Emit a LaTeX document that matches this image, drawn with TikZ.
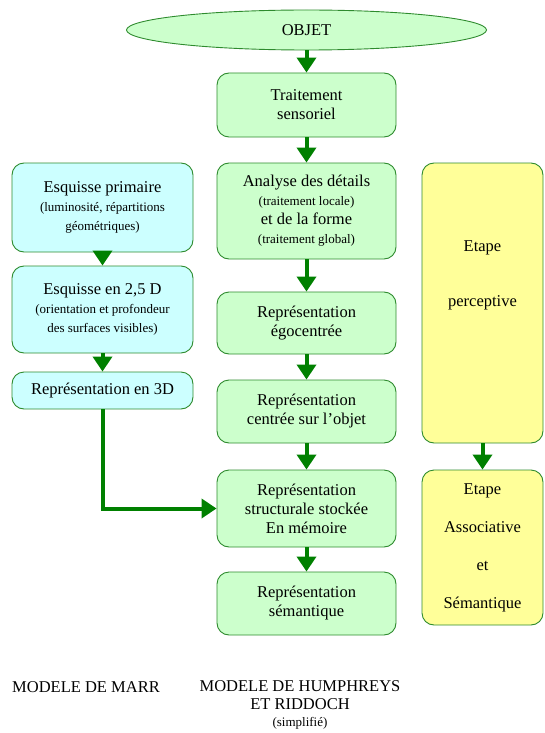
\documentclass[tikz,border=0pt]{standalone}
\usepackage{fontspec}
\setmainfont{Liberation Serif}
\usetikzlibrary{shapes.geometric,arrows.meta}

\definecolor{fillgreen}{HTML}{CCFFCC}
\definecolor{fillblue}{HTML}{CCFFFF}
\definecolor{fillyellow}{HTML}{FFFF99}
\definecolor{edgegreen}{HTML}{2E8B2E}
\definecolor{arrowgreen}{HTML}{008000}

\newcommand{\smalltxt}[1]{{\fontsize{13}{19}\selectfont #1}}

\begin{document}
\begin{tikzpicture}[x=1pt,y={(0pt,-1pt)},
    box/.style={draw=edgegreen, line width=0.9pt, rounded corners=12pt, inner sep=0pt,
        align=center, font=\rmfamily\fontsize{16.5}{19}\selectfont},
    greenbox/.style={box, fill=fillgreen, minimum width=179pt},
    bluebox/.style={box, fill=fillblue, minimum width=181pt},
    yellowbox/.style={box, fill=fillyellow, minimum width=121pt},
    flow/.style={draw=arrowgreen, line width=4pt, -{Triangle[width=19pt,length=15pt]}},
    caption/.style={align=center, inner sep=0pt, font=\rmfamily\fontsize{16.5}{17.5}\selectfont}]
    \useasboundingbox (0,0) rectangle (544,733);

    % middle column
    \node[ellipse, draw=edgegreen, line width=0.9pt, fill=fillgreen, minimum width=360pt,
        minimum height=40pt, inner sep=0pt, font=\rmfamily\fontsize{16.5}{19}\selectfont]
        (objet) at (306.5,30) {OBJET};
    \node[greenbox, minimum height=64pt] (sens) at (306.5,105) {Traitement\\sensoriel};
    \node[greenbox, minimum height=96pt] (anal) at (306.5,211)
        {Analyse des détails\\\smalltxt{(traitement locale)}\\et de la forme\\\smalltxt{(traitement global)}};
    \node[greenbox, minimum height=62pt] (ego) at (306.5,323) {Représentation\\égocentrée};
    \node[greenbox, minimum height=63pt] (cent) at (306.5,411.5) {Représentation\\centrée sur l’objet};
    \node[greenbox, minimum height=77pt] (stru) at (306.5,508.5)
        {Représentation\\structurale stockée\\En mémoire};
    \node[greenbox, minimum height=63pt] (sema) at (306.5,603.5) {Représentation\\sémantique};

    % left column
    \node[bluebox, minimum height=89pt] (esq1) at (102.5,207.5)
        {Esquisse primaire\\\smalltxt{(luminosité, répartitions}\\\smalltxt{géométriques)}};
    \node[bluebox, minimum height=87pt] (esq2) at (102.5,309.5)
        {Esquisse en 2,5 D\\\smalltxt{(orientation et profondeur}\\\smalltxt{des surfaces visibles)}};
    \node[bluebox, minimum height=37pt] (rep3) at (102.5,390.5) {Représentation en 3D};

    % right column
    \node[yellowbox, minimum height=280pt] (perc) at (482.5,303) {};
    \node[align=center, inner sep=0pt, font=\rmfamily\fontsize{16.5}{55}\selectfont]
        (perclbl) at (482.5,275) {Etape\\perceptive};
    \node[yellowbox, minimum height=155pt, font=\rmfamily\fontsize{16.5}{38}\selectfont]
        (asso) at (482.5,547.5) {Etape\\Associative\\et\\Sémantique};

    % arrows
    \draw[flow] (objet) -- (sens);
    \draw[flow] (sens) -- (anal);
    \draw[flow] (anal) -- (ego);
    \draw[flow] (ego) -- (cent);
    \draw[flow] (cent) -- (stru);
    \draw[flow] (stru) -- (sema);
    \draw[flow] (esq1) -- (esq2);
    \draw[flow] (esq2) -- (rep3);
    \draw[flow] (rep3.south) |- (stru.west);
    \draw[flow] (perc) -- (asso);

    % captions
    \node[caption] (marrlbl) at (86,687) {MODELE DE MARR};
    \node[caption] (hrlbl) at (300,705)
        {MODELE DE HUMPHREYS\\ET RIDDOCH\\\smalltxt{(simplifié)}};
\end{tikzpicture}
\end{document}
